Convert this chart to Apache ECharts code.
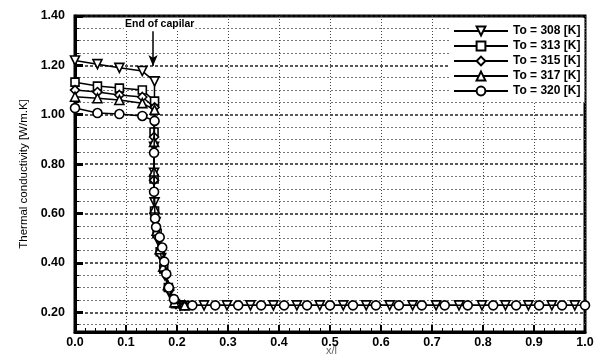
<!DOCTYPE html>
<html>
<head>
<meta charset="utf-8">
<script src="https://cdn.jsdelivr.net/npm/echarts@6/dist/echarts.min.js"></script>
<style>
  html, body { margin: 0; padding: 0; background: #fff; }
  #chart { width: 597px; height: 358px; }
</style>
</head>
<body>
<div id="chart"></div>
<script>
// Thermal conductivity along the tube for five inlet temperatures
const seriesNames = ['To = 308 [K]', 'To = 313 [K]', 'To = 315 [K]', 'To = 317 [K]', 'To = 320 [K]'];

const k308 = [
  [0, 1.22], [0.044, 1.205], [0.087, 1.19], [0.132, 1.177], [0.156, 1.135],
  [0.155, 0.87], [0.155, 0.765], [0.156, 0.645], [0.158, 0.565], [0.163, 0.49],
  [0.169, 0.42], [0.176, 0.35], [0.185, 0.28], [0.206, 0.228],
  [0.253, 0.228], [0.298, 0.228], [0.344, 0.228], [0.389, 0.228], [0.435, 0.228],
  [0.48, 0.228], [0.526, 0.228], [0.571, 0.228], [0.617, 0.228], [0.662, 0.228],
  [0.708, 0.228], [0.753, 0.228], [0.798, 0.228], [0.844, 0.228], [0.889, 0.228],
  [0.935, 0.228], [0.98, 0.228]
];
const k313 = [
  [0, 1.132], [0.044, 1.116], [0.087, 1.108], [0.132, 1.10], [0.156, 1.055],
  [0.155, 0.93], [0.155, 0.74], [0.156, 0.61], [0.161, 0.52], [0.167, 0.445],
  [0.174, 0.375], [0.183, 0.30], [0.197, 0.235], [0.215, 0.228]
];
const k315 = [
  [0, 1.10], [0.044, 1.092], [0.087, 1.08], [0.132, 1.072], [0.156, 1.03],
  [0.155, 0.91], [0.155, 0.735], [0.156, 0.60], [0.162, 0.505], [0.168, 0.435],
  [0.176, 0.365], [0.185, 0.29], [0.198, 0.233], [0.215, 0.228]
];
const k317 = [
  [0, 1.073], [0.044, 1.067], [0.087, 1.06], [0.132, 1.047], [0.156, 1.02],
  [0.155, 0.89], [0.155, 0.77], [0.156, 0.62], [0.160, 0.53], [0.166, 0.455],
  [0.173, 0.385], [0.182, 0.31], [0.195, 0.24], [0.215, 0.228]
];
const k320 = [
  [0, 1.027], [0.044, 1.007], [0.087, 1.003], [0.132, 0.995], [0.156, 0.975],
  [0.155, 0.846], [0.155, 0.688], [0.157, 0.58], [0.159, 0.545], [0.166, 0.504],
  [0.171, 0.462], [0.175, 0.405], [0.179, 0.355], [0.184, 0.30], [0.194, 0.253],
  [0.23, 0.228], [0.275, 0.228], [0.32, 0.228], [0.365, 0.228], [0.41, 0.228],
  [0.455, 0.228], [0.50, 0.228], [0.545, 0.228], [0.59, 0.228], [0.635, 0.228],
  [0.68, 0.228], [0.725, 0.228], [0.77, 0.228], [0.82, 0.228], [0.865, 0.228],
  [0.91, 0.228], [0.955, 0.228], [1.0, 0.228]
];

const yMajorTicks = [0.2, 0.4, 0.6, 0.8, 1.0, 1.2, 1.4];
const yMinorTicks = [0.15, 0.25, 0.3, 0.35, 0.45, 0.5, 0.55, 0.65, 0.7, 0.75, 0.85, 0.9, 0.95,
                     1.05, 1.1, 1.15, 1.25, 1.3, 1.35];

// end of the capillary section, marked by the arrow
const capillaryEnd = 0.153;

const FONT = "'Liberation Sans', Arial, sans-serif";

const markerDefs = [
  { symbol: 'triangle', rotate: 180 },
  { symbol: 'rect', rotate: 0 },
  { symbol: 'diamond', rotate: 0 },
  { symbol: 'triangle', rotate: 0 },
  { symbol: 'circle', rotate: 0 }
];
const allData = [k308, k313, k315, k317, k320];

const series = allData.map((d, i) => ({
  name: seriesNames[i],
  type: 'line',
  data: d,
  clip: false,
  symbol: markerDefs[i].symbol,
  symbolRotate: markerDefs[i].rotate,
  symbolSize: markerDefs[i].symbol === 'rect' ? 8 : 9,
  showAllSymbol: true,
  lineStyle: { color: '#000', width: 1.5 },
  itemStyle: { color: '#fff', borderColor: '#000', borderWidth: 1.6 },
  emphasis: { disabled: true },
  z: 2 + i
}));

series[0].markLine = {
  silent: true,
  symbol: ['none', 'arrow'],
  symbolSize: [7, 11],
  label: { show: false },
  lineStyle: { color: '#000', width: 1.5, type: 'solid' },
  data: [[{ coord: [capillaryEnd, 1.338] }, { coord: [capillaryEnd, 1.197] }]]
};

const chart = echarts.init(document.getElementById('chart'), null, { renderer: 'canvas' });
chart.setOption({
  animation: false,
  backgroundColor: '#fff',
  grid: {
    left: 75, right: 12, top: 16, bottom: 26,
    show: true, borderColor: '#000', borderWidth: 3, backgroundColor: 'transparent'
  },
  legend: {
    data: seriesNames,
    left: 449, top: 18,
    orient: 'vertical',
    backgroundColor: '#fff',
    padding: [7, 4, 5, 4],
    itemWidth: 54, itemHeight: 11, itemGap: 3,
    textStyle: { fontFamily: FONT, fontSize: 12, fontWeight: 'bold', color: '#000' },
    selectedMode: false
  },
  xAxis: {
    type: 'value', min: 0, max: 1, interval: 0.1,
    axisLine: { show: true, onZero: false, lineStyle: { color: '#000', width: 3 } },
    axisTick: { show: true, inside: true, length: 7, lineStyle: { color: '#000', width: 2 } },
    minorTick: { show: true, splitNumber: 5, length: 4, lineStyle: { color: '#000', width: 1 } },
    axisLabel: {
      formatter: v => v.toFixed(1), fontFamily: FONT, fontSize: 12.5, fontWeight: 'bold',
      color: '#000', margin: 4
    },
    splitLine: { show: true, lineStyle: { color: '#444', width: 1, type: [1, 2] } }
  },
  yAxis: [{
    type: 'value', min: 0.12, max: 1.4,
    name: 'Thermal conductivity [W/m.K]',
    nameLocation: 'middle', nameRotate: 90, nameGap: 44,
    nameTextStyle: { fontFamily: FONT, fontSize: 11.5, color: '#000' },
    axisLine: { show: true, lineStyle: { color: '#000', width: 3 } },
    axisTick: { show: true, inside: true, length: 8, customValues: yMajorTicks, lineStyle: { color: '#000', width: 3 } },
    axisLabel: {
      customValues: yMajorTicks, formatter: v => v.toFixed(2), fontFamily: FONT, fontSize: 12.5,
      fontWeight: 'bold', color: '#000', margin: 10
    },
    splitLine: { show: true, lineStyle: { color: '#222', width: 1.5, type: [3, 2] } }
  }, {
    type: 'value', min: 0.12, max: 1.4, position: 'left',
    axisLine: { show: false },
    axisLabel: { show: false },
    axisTick: { show: true, inside: true, length: 4, customValues: yMinorTicks, lineStyle: { color: '#000', width: 1 } },
    splitLine: { show: true, lineStyle: { color: '#777', width: 1, type: [2, 2] } }
  }],
  graphic: [{
    type: 'text', left: 124, top: 18, z: 20,
    style: { text: 'End of capilar', fontFamily: FONT, fontSize: 10.5, fontWeight: 'bold', fill: '#000',
             backgroundColor: '#fff', padding: [1, 1] }
  }, {
    type: 'text', left: 326, top: 345, z: 20,
    style: { text: 'x/l', fontFamily: FONT, fontSize: 11, fill: '#666' }
  }],
  series: series
});
</script>
</body>
</html>
